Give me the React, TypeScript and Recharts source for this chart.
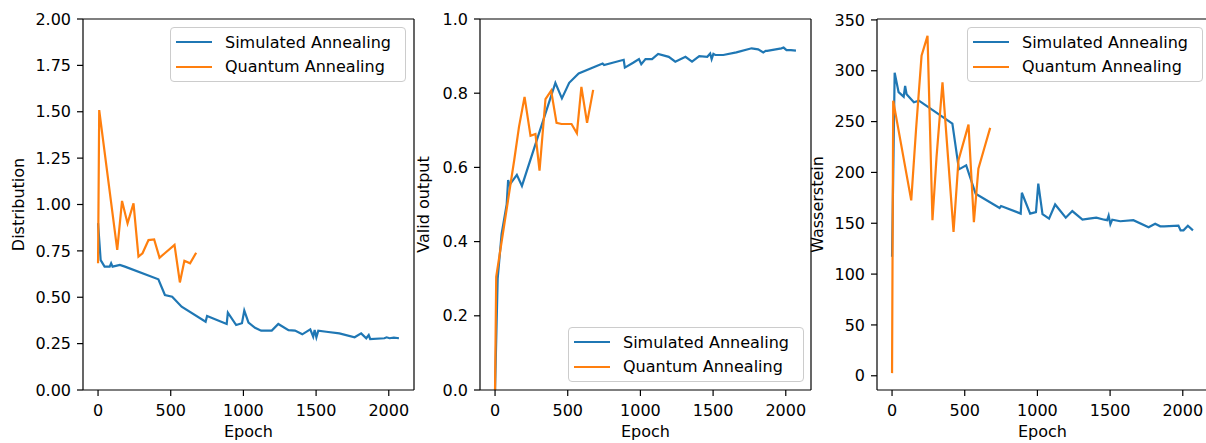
import React from 'react';
import { LineChart, Line, XAxis, YAxis, Legend, ReferenceLine } from 'recharts';

const FONT = '"DejaVu Sans", "Liberation Sans", sans-serif';
const BLUE = '#1f77b4';
const ORANGE = '#ff7f0e';

// ---- data ----
const saEpoch = [0, 18, 45, 80, 90, 100, 150, 185, 415, 460, 510, 575, 740, 750, 885, 893, 950, 990, 1006, 1035, 1080, 1122, 1195, 1240, 1310, 1355, 1405, 1460, 1480, 1490, 1502, 1515, 1570, 1660, 1765, 1810, 1845, 1862, 1872, 1970, 1985, 2005, 2035, 2070];
const saDistribution = [0.9, 0.7, 0.665, 0.665, 0.683, 0.665, 0.674, 0.665, 0.597, 0.512, 0.503, 0.449, 0.368, 0.399, 0.356, 0.417, 0.35, 0.36, 0.428, 0.363, 0.335, 0.32, 0.32, 0.356, 0.323, 0.32, 0.3, 0.327, 0.287, 0.323, 0.284, 0.32, 0.314, 0.305, 0.284, 0.305, 0.279, 0.296, 0.275, 0.279, 0.284, 0.279, 0.282, 0.279];
const saValid = [0.0, 0.3, 0.42, 0.5, 0.566, 0.553, 0.58, 0.55, 0.828, 0.786, 0.828, 0.853, 0.88, 0.876, 0.89, 0.869, 0.882, 0.892, 0.878, 0.892, 0.892, 0.906, 0.898, 0.885, 0.898, 0.885, 0.9, 0.898, 0.907, 0.892, 0.906, 0.903, 0.903, 0.91, 0.921, 0.918, 0.91, 0.914, 0.914, 0.921, 0.923, 0.916, 0.916, 0.915];
const saWasserstein = [117, 298, 279, 274.5, 285, 277, 269, 270.6, 248, 203, 207, 179, 165, 167, 159.5, 180, 159.5, 161, 189, 159, 154.5, 168.5, 155.5, 162, 153.5, 154.5, 155.5, 153.5, 153, 157.5, 149, 153.5, 152, 153, 146, 149.5, 147, 147, 147, 147.7, 143, 143, 147.5, 143];

const qaEpoch = [0, 8, 132, 165, 203, 244, 278, 306, 347, 386, 423, 457, 526, 563, 594, 633, 675];
const qaDistribution = [0.683, 1.509, 0.755, 1.019, 0.898, 1.006, 0.719, 0.737, 0.808, 0.812, 0.713, 0.736, 0.782, 0.58, 0.697, 0.683, 0.74];
const qaValid = [0.0, 0.305, 0.62, 0.71, 0.79, 0.685, 0.69, 0.591, 0.784, 0.807, 0.72, 0.717, 0.717, 0.692, 0.817, 0.72, 0.809];
const qaWasserstein = [2.6, 270.6, 172.5, 242, 314.7, 334.3, 153, 215, 288.5, 213, 141.5, 212, 247, 151, 203.6, 223, 243.8];

const xTicks = [0, 500, 1000, 1500, 2000];
const distTicks = [0, 0.25, 0.5, 0.75, 1.0, 1.25, 1.5, 1.75, 2.0];
const validTicks = [0, 0.2, 0.4, 0.6, 0.8, 1.0];
const wassTicks = [0, 50, 100, 150, 200, 250, 300, 350];

const seriesNames = ['Simulated Annealing', 'Quantum Annealing'];

const X_DOMAIN: [number, number] = [-103.5, 2173.5];

// ---- layout ----
const CHART_W = 416;
const CHART_H = 443;
const Y_AXIS_W = 83;
const X_AXIS_H = 53;
const PLOT_TOP = 19;
const PLOT_H = CHART_H - PLOT_TOP - X_AXIS_H;

type PanelProps = {
  left: number;
  sa: number[];
  qa: number[];
  yDomain: [number, number];
  yTicks: number[];
  yFmt: (v: number) => string;
  yLabel: string;
  yLabelX: number;
  legendLeft: number;
  legendTop: number;
};

const LegendContent = (props: any) => {
  const payload = (props && props.payload) || [];
  const items = seriesNames.map((n, i) => {
    const p = payload.find((q: any) => q.value === n);
    return { name: n, color: p ? p.color : i === 0 ? BLUE : ORANGE };
  });
  return (
    <div
      style={{
        border: '1px solid #cccccc',
        borderRadius: 4,
        background: 'rgba(255,255,255,0.8)',
        padding: '2px 14px 2px 5px',
        fontFamily: FONT,
        fontSize: 16,
        color: '#000',
        whiteSpace: 'nowrap',
      }}
    >
      {items.map((it) => (
        <div key={it.name} style={{ display: 'flex', alignItems: 'center', height: 24.5 }}>
          <div style={{ width: 36, height: 2.3, background: it.color, marginRight: 13 }} />
          <span>{it.name}</span>
        </div>
      ))}
    </div>
  );
};

function Panel(p: PanelProps) {
  const saRows = saEpoch.map((e, i) => ({ epoch: e, v: p.sa[i] }));
  const qaRows = qaEpoch.map((e, i) => ({ epoch: e, v: p.qa[i] }));
  const cy = PLOT_TOP + PLOT_H / 2;
  return (
    <div style={{ position: 'absolute', left: p.left, top: 0, width: CHART_W, height: CHART_H }}>
      <LineChart width={CHART_W} height={CHART_H} margin={{ top: PLOT_TOP, right: 2, bottom: 0, left: 0 }}>
        <XAxis
          dataKey="epoch"
          type="number"
          domain={X_DOMAIN}
          ticks={xTicks}
          allowDataOverflow
          height={X_AXIS_H}
          axisLine={{ stroke: '#000', strokeWidth: 1.2 }}
          tickLine={{ stroke: '#000', strokeWidth: 1.2 }}
          tickSize={6}
          tickMargin={9}
          tick={{ fill: '#000', fontSize: 16, fontFamily: FONT }}
          label={{ value: 'Epoch', position: 'insideBottom', offset: 6, fill: '#000', fontSize: 16, fontFamily: FONT }}
        />
        <YAxis
          type="number"
          domain={p.yDomain}
          ticks={p.yTicks}
          allowDataOverflow
          width={Y_AXIS_W}
          tickFormatter={p.yFmt}
          axisLine={{ stroke: '#000', strokeWidth: 1.2 }}
          tickLine={{ stroke: '#000', strokeWidth: 1.2 }}
          tickSize={6}
          tickMargin={6}
          tick={{ fill: '#000', fontSize: 16, fontFamily: FONT }}
          label={{
            content: () => (
              <text
                x={p.yLabelX}
                y={cy}
                transform={`rotate(-90 ${p.yLabelX} ${cy})`}
                textAnchor="middle"
                fill="#000"
                fontSize={16}
                fontFamily={FONT}
              >
                {p.yLabel}
              </text>
            ),
          }}
        />
        <ReferenceLine y={p.yDomain[1]} stroke="#000" strokeWidth={1.2} ifOverflow="visible" />
        <ReferenceLine x={X_DOMAIN[1]} stroke="#000" strokeWidth={1.2} ifOverflow="visible" />
        <Line
          data={saRows}
          dataKey="v"
          name={seriesNames[0]}
          type="linear"
          stroke={BLUE}
          strokeWidth={2.2}
          dot={false}
          activeDot={false}
          isAnimationActive={false}
        />
        <Line
          data={qaRows}
          dataKey="v"
          name={seriesNames[1]}
          type="linear"
          stroke={ORANGE}
          strokeWidth={2.2}
          dot={false}
          activeDot={false}
          isAnimationActive={false}
        />
        <Legend
          layout="vertical"
          align="center"
          verticalAlign="middle"
          content={LegendContent}
          wrapperStyle={{ left: p.legendLeft, top: p.legendTop, right: 'auto', bottom: 'auto', width: 'auto', height: 'auto' }}
        />
      </LineChart>
    </div>
  );
}

export default function App() {
  return (
    <div
      style={{
        position: 'absolute',
        left: 0,
        top: 0,
        width: 1206,
        height: 443,
        overflow: 'hidden',
        background: '#fff',
      }}
    >
      <Panel
        left={0}
        sa={saDistribution}
        qa={qaDistribution}
        yDomain={[0, 2]}
        yTicks={distTicks}
        yFmt={(v) => v.toFixed(2)}
        yLabel="Distribution"
        yLabelX={24}
        legendLeft={170}
        legendTop={27}
      />
      <Panel
        left={397}
        sa={saValid}
        qa={qaValid}
        yDomain={[0, 1]}
        yTicks={validTicks}
        yFmt={(v) => v.toFixed(1)}
        yLabel="Valid output"
        yLabelX={32}
        legendLeft={171}
        legendTop={327}
      />
      <Panel
        left={794}
        sa={saWasserstein}
        qa={qaWasserstein}
        yDomain={[-14, 350.9]}
        yTicks={wassTicks}
        yFmt={(v) => String(v)}
        yLabel="Wasserstein"
        yLabelX={29}
        legendLeft={173}
        legendTop={27}
      />
    </div>
  );
}
